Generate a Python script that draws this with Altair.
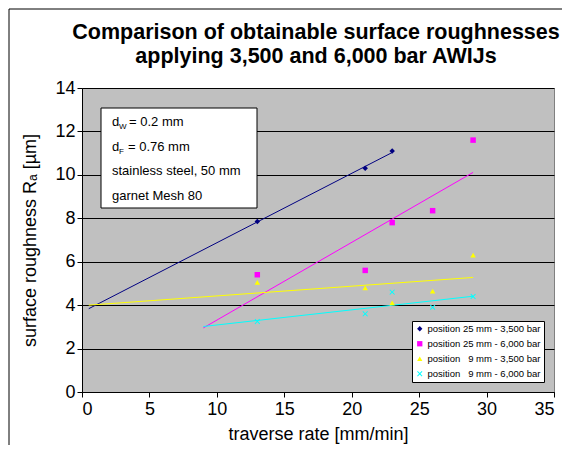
import altair as alt
import pandas as pd

FONT = "Liberation Sans, Arial, sans-serif"

series_names = [
    "position 25 mm - 3,500 bar",
    "position 25 mm - 6,000 bar",
    "position\u00a0\u00a0\u00a09 mm - 3,500 bar",
    "position\u00a0\u00a0\u00a09 mm - 6,000 bar",
]
x_25_3500 = [13, 21, 23]
y_25_3500 = [7.85, 10.3, 11.1]
x_25_6000 = [13, 21, 23, 26, 29]
y_25_6000 = [5.4, 5.6, 7.8, 8.35, 11.6]
x_9_3500 = [13, 21, 23, 26, 29]
y_9_3500 = [5.05, 4.8, 4.1, 4.65, 6.3]
x_9_6000 = [13, 21, 23, 26, 29]
y_9_6000 = [3.25, 3.6, 4.6, 3.9, 4.4]
trend_extents = [[0.5, 23], [9, 29], [0.5, 29], [9, 29]]

colors = ["#000080", "#FF00FF", "#FFFF00", "#00FFFF"]
X_PATH = "M-1,-0.75L-0.75,-1L0,-0.25L0.75,-1L1,-0.75L0.25,0L1,0.75L0.75,1L0,0.25L-0.75,1L-1,0.75L-0.25,0Z"
shapes = ["diamond", "square", "triangle-up", X_PATH]

x_ticks = [0, 5, 10, 15, 20, 25, 30, 35]
y_ticks = [0, 2, 4, 6, 8, 10, 12, 14]

title_lines = ["Comparison of obtainable surface roughnesses", "applying 3,500 and 6,000 bar AWIJs"]
x_title = "traverse rate [mm/min]"
y_title = "surface roughness R\u2090 [\u00b5m]"

rows = []
for name, xs, ys in zip(series_names,
                        [x_25_3500, x_25_6000, x_9_3500, x_9_6000],
                        [y_25_3500, y_25_6000, y_9_3500, y_9_6000]):
    for xv, yv in zip(xs, ys):
        rows.append({"series": name, "x": xv, "y": yv})
df = pd.DataFrame(rows)

W, H = 472, 304

xscale = alt.Scale(domain=[0, 35], nice=False)
yscale = alt.Scale(domain=[0, 14], nice=False)

layers = []

# outer frame decoration
dummy = alt.Data(values=[{}])
layers.append(alt.Chart(dummy).mark_rect(fillOpacity=0, stroke="black", strokeWidth=1).encode(
    x=alt.value(-73), x2=alt.value(W + 60), y=alt.value(-79), y2=alt.value(H + 80)))

# title
for t, py in zip(title_lines, [-55, -31]):
    layers.append(alt.Chart(dummy).mark_text(text=t, font=FONT, fontSize=21.5, fontWeight="bold",
                                             align="center", baseline="middle", color="black")
                  .encode(x=alt.value(W / 2 - 2), y=alt.value(py)))

# trend lines
for name, ext, c in zip(series_names, trend_extents, colors):
    layers.append(
        alt.Chart(df).transform_filter(alt.FieldEqualPredicate(field="series", equal=name))
        .transform_regression("x", "y", extent=ext)
        .mark_line(color=c, strokeWidth=1)
        .encode(x=alt.X("x:Q", scale=xscale), y=alt.Y("y:Q", scale=yscale))
    )

legend = alt.Legend(
    title=None, orient="none", legendX=330, legendY=233,
    fillColor="white", strokeColor="black", padding=3,
    labelFont=FONT, labelFontSize=9.5, labelColor="black", labelOffset=3,
    symbolSize=28, rowPadding=4, symbolStrokeWidth=0,
)

points = alt.Chart(df).mark_point(filled=True, size=30, opacity=1).encode(
    x=alt.X("x:Q", scale=xscale,
            axis=alt.Axis(values=x_ticks, title=x_title, grid=False, labelPadding=3, titlePadding=7)),
    y=alt.Y("y:Q", scale=yscale,
            axis=alt.Axis(values=y_ticks, title=y_title, grid=True, gridColor="black",
                          gridOpacity=1, labelPadding=2, titlePadding=15)),
    color=alt.Color("series:N", scale=alt.Scale(domain=series_names, range=colors), legend=legend),
    shape=alt.Shape("series:N", scale=alt.Scale(domain=series_names, range=shapes), legend=legend),
)
layers.append(points)

# annotation box
layers.append(alt.Chart(dummy).mark_rect(fill="white", stroke="black", strokeWidth=1).encode(
    x=alt.value(19), x2=alt.value(175), y=alt.value(20), y2=alt.value(120)))

anno_main = [("d", 30, 37.5), ("= 0.2 mm", 47, 37.5), ("d", 30, 62.5), ("= 0.76 mm", 46, 62.5),
             ("stainless steel, 50 mm", 30, 87), ("garnet Mesh 80", 30, 111.5)]
anno_sub = [("W", 37, 40.5), ("F", 37, 65.5)]
for t, px, py in anno_main:
    layers.append(alt.Chart(dummy).mark_text(text=t, font=FONT, fontSize=13, align="left",
                                             baseline="alphabetic", color="black")
                  .encode(x=alt.value(px), y=alt.value(py)))
for t, px, py in anno_sub:
    layers.append(alt.Chart(dummy).mark_text(text=t, font=FONT, fontSize=8, align="left",
                                             baseline="alphabetic", color="black")
                  .encode(x=alt.value(px), y=alt.value(py)))

chart = alt.layer(*layers).properties(
    width=W, height=H,
    autosize=alt.AutoSizeParams(type="none"),
    padding={"left": 74, "top": 80, "right": 8, "bottom": 53},
).configure_view(
    fill="#C0C0C0", stroke="#808080", strokeWidth=1
).configure_axis(
    domainColor="black", tickColor="black", tickSize=5, labelColor="black", titleColor="black",
    labelFont=FONT, titleFont=FONT, labelFontSize=18, titleFontSize=18, titleFontWeight="normal",
)

chart.save("out.html", embed_options={"renderer": "svg", "actions": False})
